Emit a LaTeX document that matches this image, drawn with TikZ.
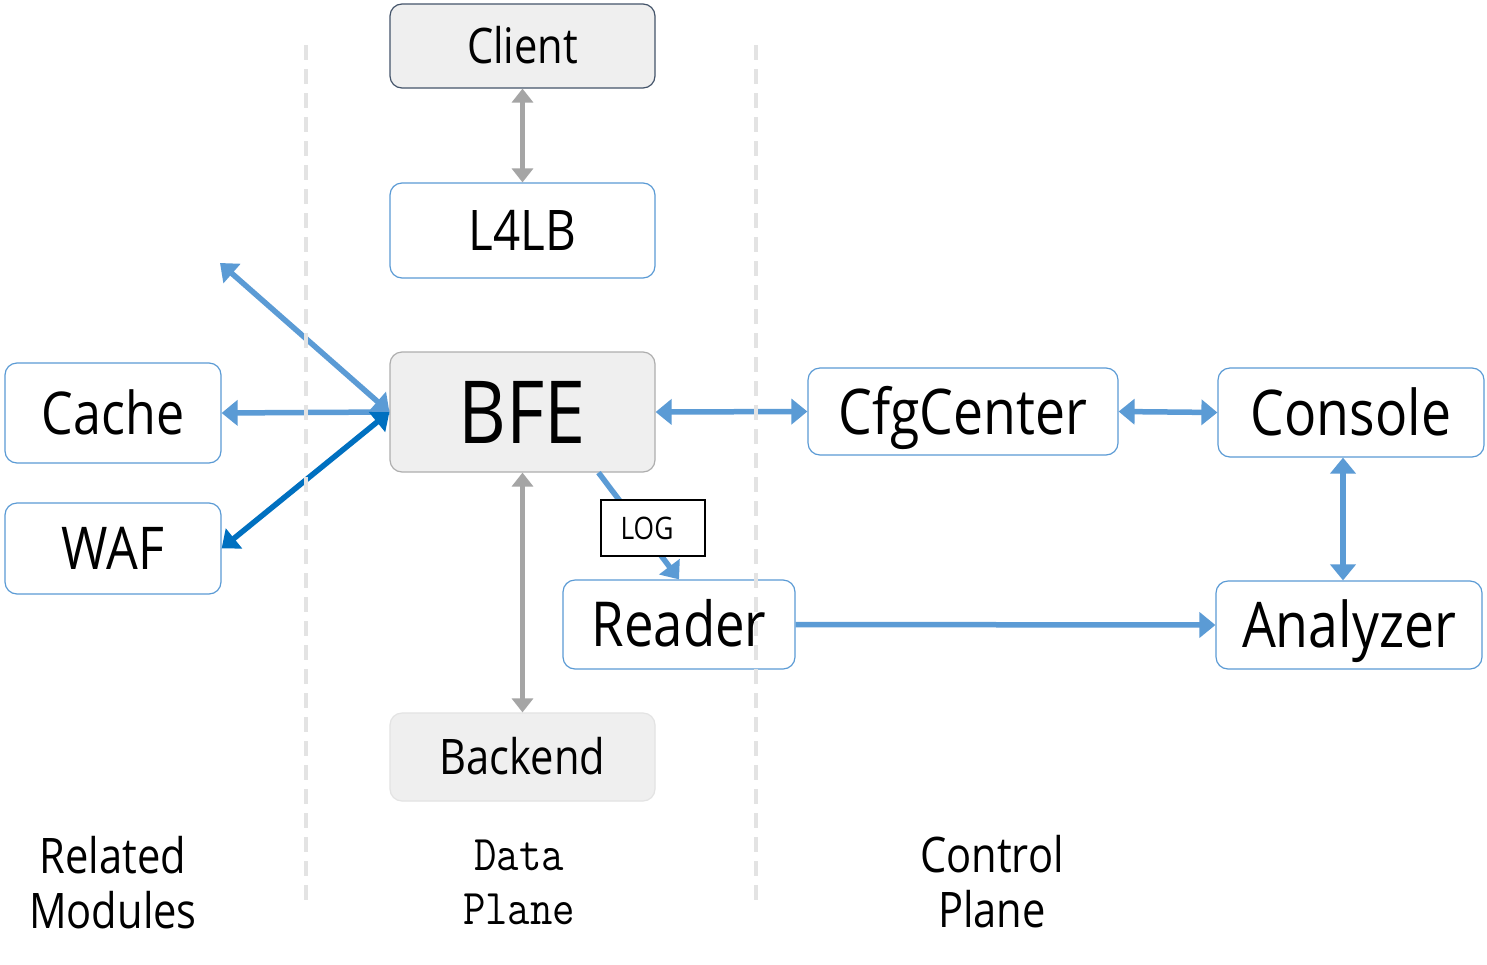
\documentclass[tikz,border=0pt]{standalone}
\usepackage{fontspec}
\setmainfont[FakeStretch=0.85]{Open Sans}
\newfontfamily\dmono[FakeStretch=0.87]{Latin Modern Mono}
\usetikzlibrary{arrows.meta}
\definecolor{lblue}{HTML}{5B9BD5}
\definecolor{dblue}{HTML}{0070C0}
\definecolor{agray}{HTML}{A5A5A5}
\definecolor{boxfill}{HTML}{EFEFEF}
\definecolor{slate}{HTML}{44546A}
\definecolor{sepgray}{HTML}{E3E3E3}
\newcommand\myfs[1]{\fontsize{#1}{#1}\selectfont}
\tikzset{
  box/.style={draw=lblue, line width=1.2pt, rounded corners=12pt, fill=white, inner sep=0pt,
    text depth=0pt, align=center},
  greybox/.style={box, fill=boxfill},
  barrow/.style={draw=lblue, line width=5.5pt, {Triangle[length=16pt,width=25pt]}-{Triangle[length=16pt,width=25pt]}},
  barrowone/.style={draw=lblue, line width=5.5pt, -{Triangle[length=16pt,width=25pt]}},
  darrow/.style={draw=dblue, line width=5.5pt, {Triangle[length=16pt,width=25pt]}-{Triangle[length=16pt,width=25pt]}},
  garrow/.style={draw=agray, line width=4.5pt, {Triangle[length=14pt,width=21pt]}-{Triangle[length=14pt,width=21pt]}},
  sepline/.style={draw=sepgray, line width=4pt, dash pattern=on 15pt off 9pt},
  caption/.style={align=center, inner sep=0pt}
}
\begin{document}
\begin{tikzpicture}[x=1pt,y=-1pt]
\useasboundingbox[fill=white] (0,0) rectangle (1487,964);

% nodes
\node[greybox, draw=slate, minimum width=265pt, minimum height=84pt, font=\myfs{49}, text height=35pt] (client) at (522.5,46) {Client};
\node[box, minimum width=265pt, minimum height=95pt, font=\myfs{56}, text height=40pt] (l4lb) at (522.5,230.5) {L4LB};
\node[greybox, draw=agray!90, minimum width=265pt, minimum height=120pt, font=\myfs{87}, text height=62pt] (bfe) at (522.5,412) {BFE};
\node[greybox, draw=sepgray, minimum width=265pt, minimum height=88pt, font=\myfs{49}, text height=35pt] (backend) at (522.5,757) {Backend};
\node[box, minimum width=216pt, minimum height=100pt, font=\myfs{59}, text height=42pt] (cache) at (113,413) {Cache};
\node[box, minimum width=216pt, minimum height=91pt, font=\myfs{59}, text height=42pt] (waf) at (113,548.5) {WAF};
\node[box, minimum width=310pt, minimum height=87pt, font=\myfs{63}, text height=45pt] (cfg) at (963,411.5) {CfgCenter};
\node[box, minimum width=266pt, minimum height=89pt, font=\myfs{63}, text height=45pt] (console) at (1351,412.5) {Console};
\node[box, minimum width=232pt, minimum height=89pt, font=\myfs{62}, text height=44pt] (reader) at (679,624.5) {Reader};
\node[box, minimum width=266pt, minimum height=88pt, font=\myfs{63}, text height=45pt] (analyzer) at (1349,625) {Analyzer};
\coordinate (ul) at (220,263);

% connectors
\draw[garrow] (client.south) -- (l4lb.north);
\draw[garrow] (bfe.south) -- (backend.north);
\draw[barrow] (bfe.west) -- (ul);
\draw[barrowone] (bfe.west) -- (cache.east);
\draw[darrow] (bfe.west) -- (waf.east);
\draw[barrow] (bfe.east) -- (cfg.west);
\draw[barrow] (cfg.east) -- (console.west);
\draw[barrow] ([xshift=-8pt]console.south) -- ([xshift=-6pt]analyzer.north);
\draw[barrowone] (reader.east) -- (analyzer.west);
\draw[barrowone] ([xshift=76pt]bfe.south) -- (reader.north);
\node[draw=black, line width=1.2pt, fill=white, inner sep=0pt, minimum width=104pt, minimum height=56pt,
  text height=22pt, text depth=0pt, font=\myfs{31}] (log) at (653,528) {\hspace*{-12pt}LOG};

% captions
\node[caption, font=\fontsize{49}{55}\selectfont] (related) at (113,883) {Related\\Modules};
\node[caption, font=\dmono\fontsize{50}{54}\selectfont] (data) at (519,882) {Data\\Plane};
\node[caption, font=\fontsize{49}{55}\selectfont] (control) at (992,882) {Control\\Plane};

% plane separators
\draw[sepline] (306,45) -- (306,900);
\draw[sepline] (756,45) -- (756,900);
\end{tikzpicture}
\end{document}
